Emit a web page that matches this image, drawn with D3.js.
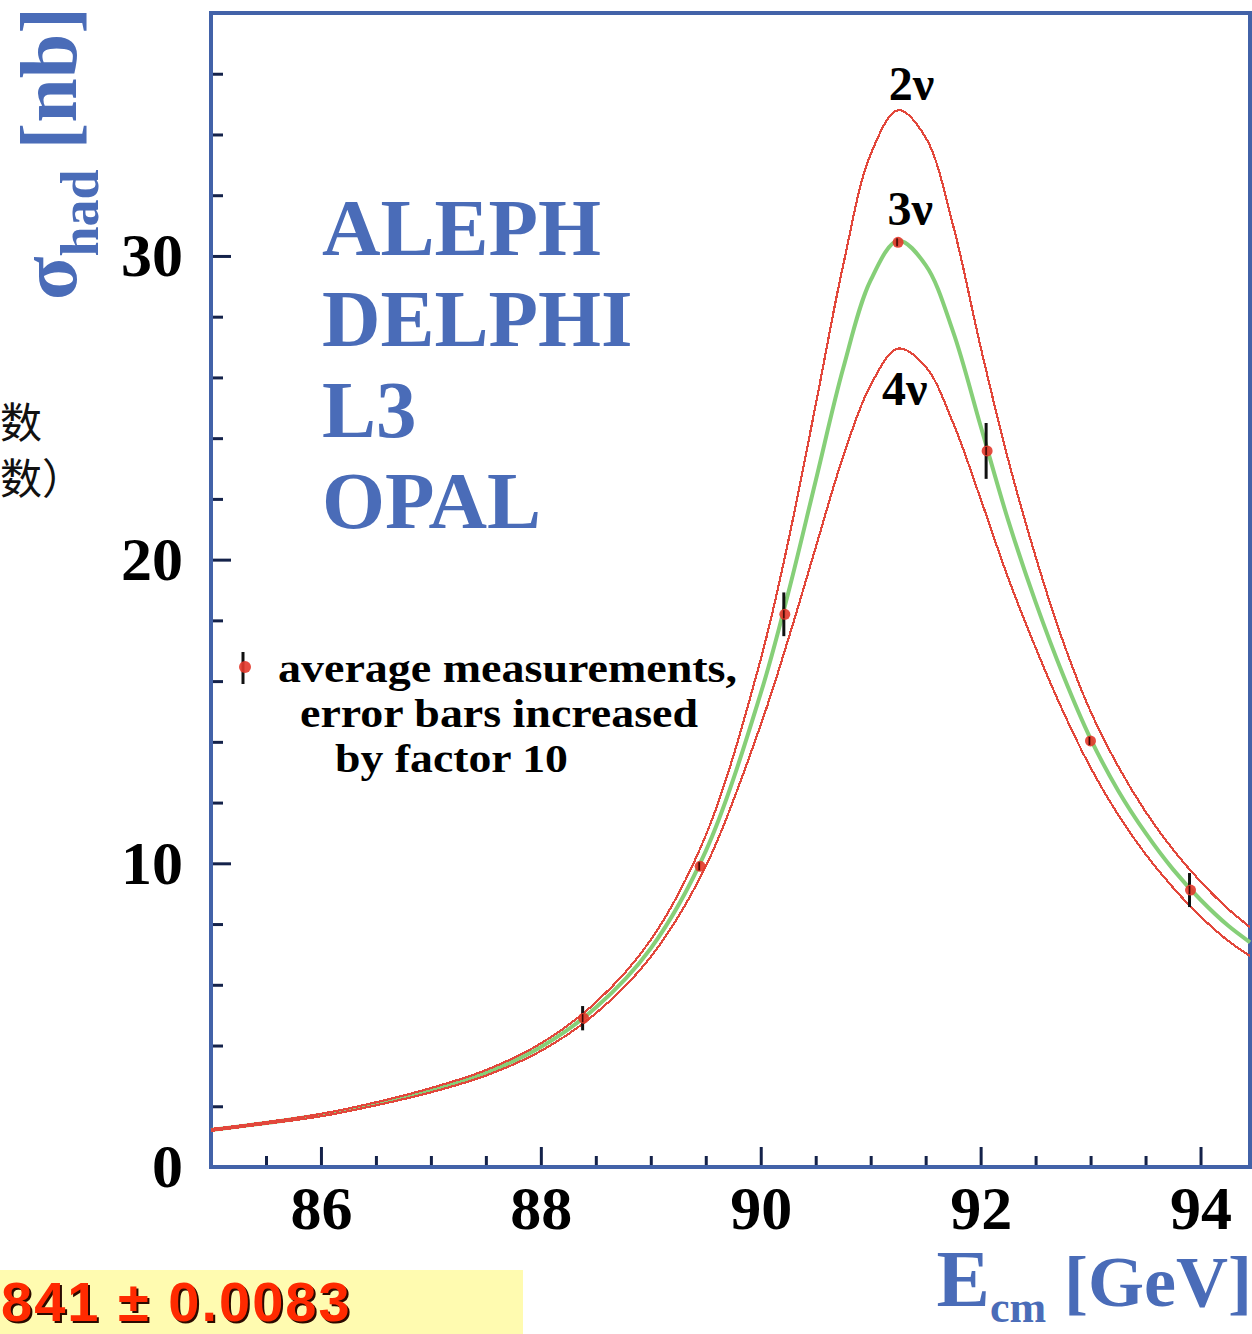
<!DOCTYPE html>
<html>
<head>
<meta charset="utf-8">
<script src="https://cdn.jsdelivr.net/npm/d3@7"></script>
<style>
  html, body { margin: 0; padding: 0; background: #fff; }
  svg { display: block; }
</style>
</head>
<body>
<svg id="chart" width="1252" height="1334"></svg>
<script>
// Hadronic cross section around the Z pole, with predictions for 2, 3 and 4 light neutrino species.
const energies = [85.0, 85.5, 86.0, 86.5, 87.0, 87.5, 88.0, 88.5, 89.0, 89.5, 90.0, 90.25, 90.5, 90.75,
                  91.0, 91.25, 91.5, 91.75, 92.0, 92.25, 92.5, 92.75, 93.0, 93.25, 93.5, 93.75, 94.0, 94.25, 94.45];
const sigma2nu = [1.25, 1.48, 1.75, 2.13, 2.60, 3.19, 4.07, 5.42, 7.48, 10.92, 16.72, 20.60, 25.10, 29.70,
                  33.35, 34.80, 33.90, 31.00, 27.00, 23.30, 20.10, 17.30, 15.00, 13.20, 11.70, 10.45, 9.40, 8.50, 7.90];
const sigma3nu = [1.22, 1.45, 1.71, 2.08, 2.53, 3.10, 3.95, 5.25, 7.20, 10.40, 15.60, 18.90, 22.60, 26.30,
                  29.20, 30.50, 29.70, 27.50, 24.40, 21.30, 18.60, 16.20, 14.10, 12.40, 11.00, 9.80, 8.80, 7.95, 7.40];
const sigma4nu = [1.19, 1.42, 1.67, 2.03, 2.46, 3.01, 3.82, 5.06, 6.92, 9.90, 14.56, 17.37, 20.40, 23.40,
                  25.75, 26.95, 26.35, 24.50, 22.00, 19.40, 17.10, 15.00, 13.15, 11.60, 10.30, 9.20, 8.25, 7.45, 6.95];

// Averaged measurements (error bars scaled by 10)
const measEnergy = [88.38, 89.44, 90.21, 91.24, 92.05, 92.99, 93.90];
const measSigma  = [4.90, 9.90, 18.20, 30.45, 23.58, 14.03, 9.12];
const measError  = [0.40, 0.15, 0.72, 0.10, 0.92, 0.15, 0.56];

const xMajorTicks = [86, 88, 90, 92, 94];
const xMinorTicks = [85.5, 86.5, 87, 87.5, 88.5, 89, 89.5, 90.5, 91, 91.5, 92.5, 93, 93.5];
const yMajorTicks = [0, 10, 20, 30];
const yMinorTicks = [2, 4, 6, 8, 12, 14, 16, 18, 22, 24, 26, 28, 32, 34, 36];

const experiments = ["ALEPH", "DELPHI", "L3", "OPAL"];
const curveLabels = ["2ν", "3ν", "4ν"];
const legendLines = ["average measurements,", "error bars increased", "by factor 10"];

const svg = d3.select("#chart");
const frameColor = "#4262a8";
const tickColor = "#14224a";
const labelBlue = "#4a6cb8";
const curveRed = "#e2473b";
const curveGreen = "#86cf78";
const pointRed = "#e3392b";

const x = d3.scaleLinear().domain([85, 94.45]).range([211, 1250]);
const y = d3.scaleLinear().domain([0, 38]).range([1167, 13]);

// side text from the slide
const side = svg.append("g").attr("font-family", "'Noto Sans CJK SC', sans-serif")
  .attr("font-size", 42).attr("fill", "#111");
side.append("text").attr("x", 0).attr("y", 438).text("数");
side.append("text").attr("x", 0).attr("y", 494).text("数）");

// result box at the bottom
svg.append("rect").attr("x", 0).attr("y", 1270).attr("width", 523).attr("height", 64).attr("fill", "#fffbb0");
const resultText = "841 ± 0.0083";
const resultFont = "'Liberation Sans', Arial, sans-serif";
svg.append("text").attr("x", 3).attr("y", 1323)
  .attr("font-family", resultFont).attr("font-weight", "bold").attr("letter-spacing", 2)
  .attr("font-size", 56).attr("fill", "#2a0a00").text(resultText);
svg.append("text").attr("x", 1).attr("y", 1321)
  .attr("font-family", resultFont).attr("font-weight", "bold").attr("letter-spacing", 2)
  .attr("font-size", 56).attr("fill", "#ff2a00").text(resultText);

// axes with inward ticks
const serif = "'Liberation Serif', 'Times New Roman', serif";
function styleAxis(g) {
  g.select(".domain").remove();
  g.selectAll(".tick line").attr("stroke", tickColor).attr("stroke-width", 3);
  g.selectAll(".tick text").attr("font-family", serif).attr("font-weight", "bold")
    .attr("font-size", 62).attr("fill", "#000");
}
svg.append("g").attr("transform", "translate(211,0)")
  .call(d3.axisLeft(y).tickValues(yMinorTicks).tickSize(-12).tickFormat(""))
  .call(styleAxis);
svg.append("g").attr("transform", "translate(211,0)")
  .call(d3.axisLeft(y).tickValues(yMajorTicks).tickSize(-20).tickPadding(28).tickFormat(d3.format("d")))
  .call(styleAxis);
svg.append("g").attr("transform", "translate(0,1167)")
  .call(d3.axisBottom(x).tickValues(xMinorTicks).tickSize(-11).tickFormat(""))
  .call(styleAxis);
svg.append("g").attr("transform", "translate(0,1167)")
  .call(d3.axisBottom(x).tickValues(xMajorTicks).tickSize(-20).tickPadding(18).tickFormat(d3.format("d")))
  .call(styleAxis);

// frame
svg.append("rect").attr("x", x(85)).attr("y", y(38))
  .attr("width", x(94.45) - x(85)).attr("height", y(0) - y(38))
  .attr("fill", "none").attr("stroke", frameColor).attr("stroke-width", 4);

// experiment names
svg.append("g").selectAll("text").data(experiments).join("text")
  .attr("x", 322).attr("y", (d, i) => 255 + i * 91)
  .attr("font-family", serif).attr("font-weight", "bold").attr("font-size", 81)
  .attr("fill", labelBlue).text(d => d);

// curves
const line = d3.line().x(d => x(d[0])).y(d => y(d[1])).curve(d3.curveCatmullRom.alpha(0.5));
const plot = svg.append("g");
plot.append("path").datum(energies.map((e, i) => [e, sigma3nu[i]]))
  .attr("d", line).attr("fill", "none").attr("stroke", curveGreen).attr("stroke-width", 4);
[sigma2nu, sigma4nu].forEach(s => {
  plot.append("path").datum(energies.map((e, i) => [e, s[i]]))
    .attr("d", line).attr("fill", "none").attr("stroke", curveRed).attr("stroke-width", 2.2)
    .attr("shape-rendering", "crispEdges");
});

// curve labels
const labelPos = [
  { e: 91.37, s: 34.80, dy: -10 },
  { e: 91.36, s: 30.50, dy: -16 },
  { e: 91.31, s: 26.95, dy: 56 }
];
svg.append("g").selectAll("text").data(curveLabels).join("text")
  .attr("x", (d, i) => x(labelPos[i].e)).attr("y", (d, i) => y(labelPos[i].s) + labelPos[i].dy)
  .attr("text-anchor", "middle").attr("font-family", serif).attr("font-weight", "bold")
  .attr("font-size", 48).attr("fill", "#000").text(d => d);

// measurements
const meas = svg.append("g").selectAll("g").data(measEnergy).join("g");
meas.append("line").attr("x1", d => x(d)).attr("x2", d => x(d))
  .attr("y1", (d, i) => y(measSigma[i] - measError[i])).attr("y2", (d, i) => y(measSigma[i] + measError[i]))
  .attr("stroke", "#111").attr("stroke-width", 3);
meas.append("circle").attr("cx", d => x(d) + 1).attr("cy", (d, i) => y(measSigma[i]))
  .attr("r", 5.5).attr("fill", pointRed).attr("fill-opacity", 0.9);
meas.append("line").attr("x1", d => x(d)).attr("x2", d => x(d))
  .attr("y1", (d, i) => y(measSigma[i]) - 4).attr("y2", (d, i) => y(measSigma[i]) + 4)
  .attr("stroke", "#3a0a05").attr("stroke-width", 1.5);

// legend
const legend = svg.append("g");
legend.append("line").attr("x1", 243).attr("x2", 243).attr("y1", 652).attr("y2", 684)
  .attr("stroke", "#111").attr("stroke-width", 3);
legend.append("circle").attr("cx", 245).attr("cy", 667).attr("r", 6).attr("fill", pointRed).attr("fill-opacity", 0.9);
const legendX = [278, 300, 335];
const legendW = [459, 398, 233];
legend.selectAll("text").data(legendLines).join("text")
  .attr("x", (d, i) => legendX[i]).attr("y", (d, i) => 682 + i * 45)
  .attr("font-family", serif).attr("font-weight", "bold").attr("font-size", 40)
  .attr("textLength", (d, i) => legendW[i]).attr("lengthAdjust", "spacingAndGlyphs")
  .attr("fill", "#000").text(d => d);

// axis titles
const yTitle = svg.append("text").attr("transform", "translate(76,300) rotate(-90)")
  .attr("font-family", serif).attr("font-weight", "bold").attr("fill", labelBlue);
yTitle.append("tspan").attr("font-size", 80).text("σ");
yTitle.append("tspan").attr("font-size", 54).attr("dy", 22).text("had");
yTitle.append("tspan").attr("font-size", 80).attr("dy", -22).text(" [nb]");

const xTitle = svg.append("text").attr("x", 1252).attr("y", 1306).attr("text-anchor", "end")
  .attr("font-family", serif).attr("font-weight", "bold").attr("fill", labelBlue);
xTitle.append("tspan").attr("font-size", 80).text("E");
xTitle.append("tspan").attr("font-size", 44).attr("dy", 16).text("cm");
xTitle.append("tspan").attr("font-size", 72).attr("dy", -16).text(" [GeV]");
</script>
</body>
</html>
